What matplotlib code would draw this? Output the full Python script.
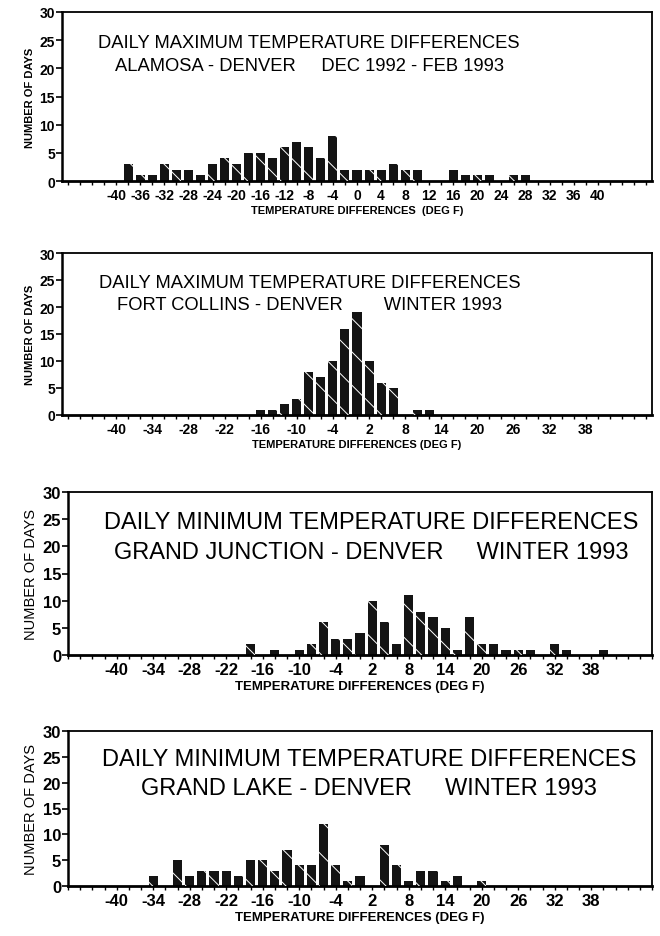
import matplotlib
matplotlib.use("Agg")
import matplotlib.pyplot as plt
from matplotlib.ticker import MultipleLocator

plt.rcParams['font.family'] = ['Liberation Sans', 'DejaVu Sans']
plt.rcParams['axes.unicode_minus'] = False
plt.rcParams['hatch.linewidth'] = 0.7

# ---- data (bin centres in deg F, number of days) ----
alamosa_temp = [-38, -36, -34, -32, -30, -28, -26, -24, -22, -20, -18, -16, -14, -12,
                -10, -8, -6, -4, -2, 0, 2, 4, 6, 8, 10, 16, 18, 20, 22, 26, 28]
alamosa_days = [3, 1, 1, 3, 2, 2, 1, 3, 4, 3, 5, 5, 4, 6,
                7, 6, 4, 8, 2, 2, 2, 2, 3, 2, 2, 2, 1, 1, 1, 1, 1]

collins_temp = [-16, -14, -12, -10, -8, -6, -4, -2, 0, 2, 4, 6, 10, 12]
collins_days = [1, 1, 2, 3, 8, 7, 10, 16, 19, 10, 6, 5, 1, 1]

junction_temp = [-18, -14, -10, -8, -6, -4, -2, 0, 2, 4, 6, 8, 10, 12, 14, 16, 18,
                 20, 22, 24, 26, 28, 32, 34, 40]
junction_days = [2, 1, 1, 2, 6, 3, 3, 4, 10, 6, 2, 11, 8, 7, 5, 1, 7,
                 2, 2, 1, 1, 1, 2, 1, 1]

lake_temp = [-34, -30, -28, -26, -24, -22, -20, -18, -16, -14, -12, -10, -8, -6,
             -4, -2, 0, 4, 6, 8, 10, 12, 14, 16, 20]
lake_days = [2, 5, 2, 3, 3, 3, 2, 5, 5, 3, 7, 4, 4, 12,
             4, 1, 2, 8, 4, 1, 3, 3, 1, 2, 1]

ticks_a = [-40, -36, -32, -28, -24, -20, -16, -12, -8, -4, 0, 4, 8, 12, 16, 20, 24, 28, 32, 36, 40]
ticks_b = [-40, -34, -28, -22, -16, -10, -4, 2, 8, 14, 20, 26, 32, 38]

titles = [
    ("DAILY MAXIMUM TEMPERATURE DIFFERENCES", "ALAMOSA - DENVER     DEC 1992 - FEB 1993"),
    ("DAILY MAXIMUM TEMPERATURE DIFFERENCES", "FORT COLLINS - DENVER        WINTER 1993"),
    ("DAILY MINIMUM TEMPERATURE DIFFERENCES", "GRAND JUNCTION - DENVER     WINTER 1993"),
    ("DAILY MINIMUM TEMPERATURE DIFFERENCES", "GRAND LAKE - DENVER     WINTER 1993"),
]

W, H = 660, 937
fig = plt.figure(figsize=(W / 100, H / 100), dpi=100)

# panel boxes in pixels: left, right, top, bottom
boxes = [(62, 652, 13, 182), (62, 652, 254, 416), (68, 652, 493, 656), (68, 652, 732, 887)]
panels = [
    (alamosa_temp, alamosa_days, ticks_a, 49, 0.419, 13.2, 10, 8, 8),
    (collins_temp, collins_days, ticks_b, 49, 0.42, 13.2, 10, 8, 8),
    (junction_temp, junction_days, ticks_b, 48, 0.52, 17.0, 12, 10.5, 9.5),
    (lake_temp, lake_days, ticks_b, 48, 0.515, 17.0, 12, 10.5, 9.5),
]

for i, (box, p, t) in enumerate(zip(boxes, panels, titles)):
    l, r, top, bot = box
    temp, days, xt, lim, tx, tsize, ksize, ylsize, xlsize = p
    ax = fig.add_axes([l / W, 1 - bot / H, (r - l) / W, (bot - top) / H])

    ax.bar(temp, days, width=1.5, color='#141414', linewidth=0, zorder=2)
    ax.bar(temp, days, width=1.5, facecolor='none', edgecolor='white',
           hatch='\\', linewidth=0, zorder=3)

    ax.set_xlim(-lim, lim)
    ax.set_ylim(0, 30)
    ax.set_yticks([0, 5, 10, 15, 20, 25, 30])
    ax.set_xticks(xt)
    ax.xaxis.set_minor_locator(MultipleLocator(2))
    ax.tick_params(axis='y', direction='out', length=4, width=1.2, pad=1,
                   labelsize=ksize)
    ax.tick_params(axis='x', which='both', direction='out', length=3, width=1,
                   pad=2, labelsize=ksize)
    for lab in ax.get_xticklabels() + ax.get_yticklabels():
        lab.set_fontweight('bold')

    for s in ax.spines.values():
        s.set_linewidth(1.3)
    ax.spines['bottom'].set_linewidth(2)
    ax.spines['left'].set_linewidth(1.8)

    ax.set_ylabel("NUMBER OF DAYS", fontsize=ylsize,
                  fontweight='bold' if i < 2 else 'normal', labelpad=3)
    xl = "TEMPERATURE DIFFERENCES  (DEG F)" if i == 0 else "TEMPERATURE DIFFERENCES (DEG F)"
    ax.set_xlabel(xl, fontsize=xlsize, fontweight='bold', labelpad=2)

    ax.text(tx, (24.6 if i < 2 else 24.5) / 30, t[0], transform=ax.transAxes,
            ha='center', va='center', fontsize=tsize)
    ax.text(tx, (20.5 if i < 2 else 19.0) / 30, t[1], transform=ax.transAxes,
            ha='center', va='center', fontsize=tsize)

fig.savefig("out.png", dpi=100)
